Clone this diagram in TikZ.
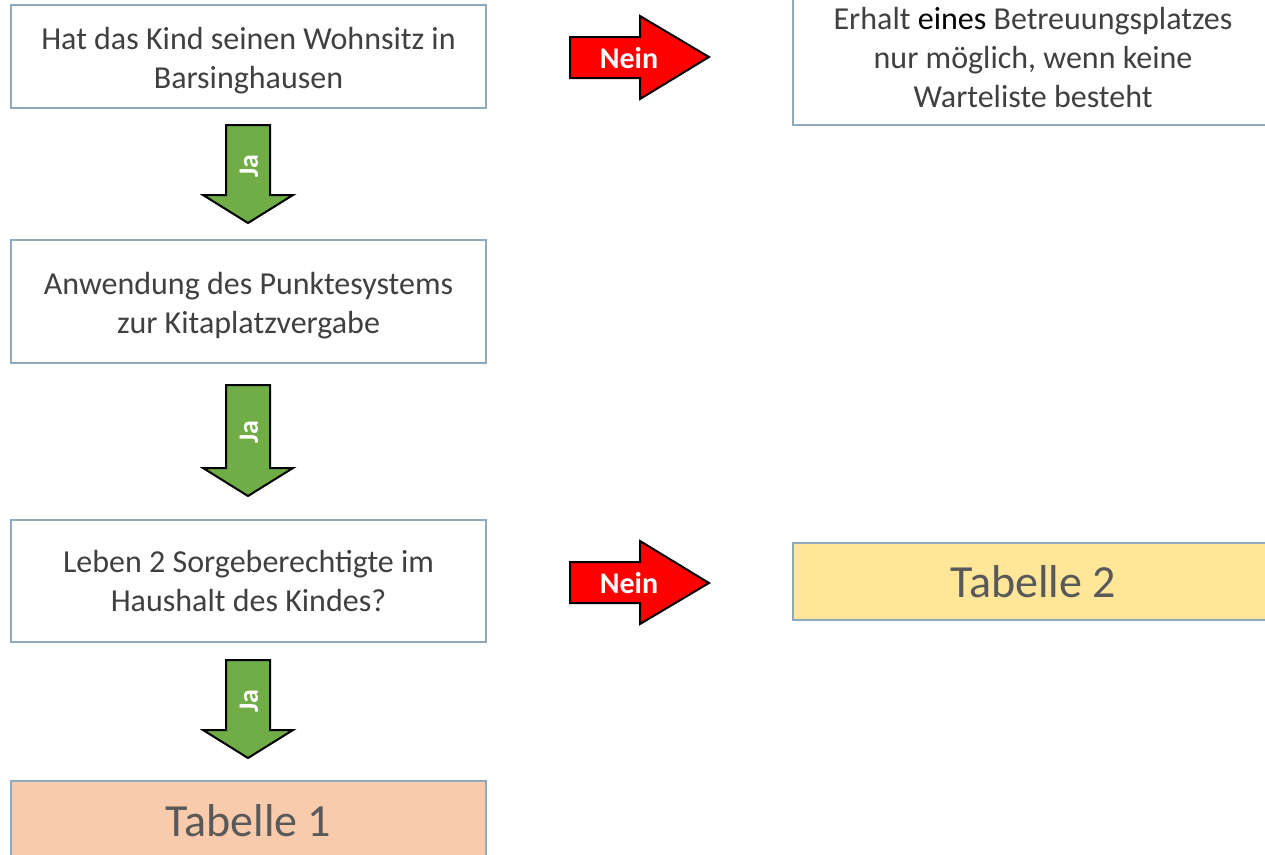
\documentclass[tikz,border=0pt]{standalone}
\usepackage{fontspec}
\setmainfont{Carlito}
\definecolor{boxline}{RGB}{143,170,188}
\definecolor{txt}{RGB}{64,64,64}
\definecolor{tabtxt}{RGB}{89,89,89}
\definecolor{tabone}{RGB}{248,203,173}
\definecolor{tabtwo}{RGB}{255,230,153}
\definecolor{jagreen}{RGB}{112,173,71}
\begin{document}
\begin{tikzpicture}[x=1pt,y=-1pt,
  qbox/.style={draw=boxline,line width=2.5pt,fill=white,minimum width=475pt,inner sep=0pt,
    font=\fontsize{32}{39}\selectfont,text=txt,align=center},
  qtext/.style={inner sep=0pt,font=\fontsize{32}{39}\selectfont,text=txt,align=center},
  tbox/.style={qbox,font=\fontsize{46}{54}\selectfont,text=tabtxt},
  jaarrow/.style={draw=black,line width=2pt,fill=jagreen,line join=miter},
  neinarrow/.style={draw=black,line width=2pt,fill=red,line join=miter},
  jalabel/.style={text=white,font=\bfseries\fontsize{28}{32}\selectfont,rotate=90,inner sep=0pt},
  neinlabel/.style={text=white,font=\bfseries\fontsize{30}{34}\selectfont,inner sep=0pt}]
\useasboundingbox (0,0) rectangle (1265,854);
\clip (0,0) rectangle (1265,854);
% boxes
\node[qbox,minimum height=103pt] (q1) at (248.5,56.5) {};
\node[qtext] (q1t) at ([yshift=-4pt]q1.center) {Hat das Kind seinen Wohnsitz in\\Barsinghausen};
\node[qbox,minimum height=123pt] (q2) at (248.5,301.5) {};
\node[qtext] (q2t) at ([yshift=-4pt]q2.center) {Anwendung des Punktesystems\\zur Kitaplatzvergabe};
\node[qbox,minimum height=122pt] (q3) at (248.5,581) {Leben 2 Sorgeberechtigte im\\Haushalt des Kindes?};
\node[tbox,fill=tabone,minimum height=80pt] (t1) at (248.5,821) {Tabelle 1};
\node[qbox,minimum width=480pt,minimum height=134pt] (r1) at (1033,58) {Erhalt {\color{black}eines} Betreuungsplatzes\\nur möglich, wenn keine\\Warteliste besteht};
\node[tbox,fill=tabtwo,minimum width=480pt,minimum height=77pt] (t2) at (1033,581.5) {Tabelle 2};
% green arrows
\draw[jaarrow] (226,125) -- (270,125) -- (270,195) -- (293,195) -- (248,223) -- (203,195) -- (226,195) -- cycle;
\node[jalabel] (ja1) at (249,166) {Ja};
\draw[jaarrow] (226,385) -- (270,385) -- (270,468) -- (293,468) -- (248,496) -- (203,468) -- (226,468) -- cycle;
\node[jalabel] (ja2) at (249,432) {Ja};
\draw[jaarrow] (226,660) -- (270,660) -- (270,730) -- (293,730) -- (248,758) -- (203,730) -- (226,730) -- cycle;
\node[jalabel] (ja3) at (249,701) {Ja};
% red arrows
\draw[neinarrow] (570,37) -- (640,37) -- (640,16) -- (709,57) -- (640,99) -- (640,78) -- (570,78) -- cycle;
\node[neinlabel] (n1) at (629,58) {Nein};
\draw[neinarrow] (570,562) -- (640,562) -- (640,541) -- (709,583) -- (640,624) -- (640,603) -- (570,603) -- cycle;
\node[neinlabel] (n2) at (629,583) {Nein};
\end{tikzpicture}
\end{document}
